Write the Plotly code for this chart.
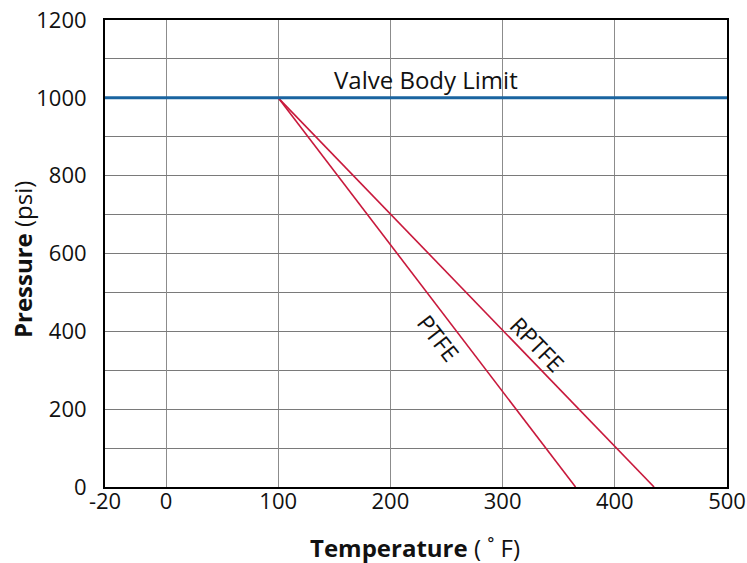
import plotly.graph_objects as go

# Data
limit_pressure = 1000
ptfe_temps = [100, 365]
ptfe_pressures = [1000, 0]
rptfe_temps = [100, 435]
rptfe_pressures = [1000, 0]

# Axis layout: the "-20" label sits at the left edge of a compressed axis
X_LEFT = -54.4
x_tick_vals = [X_LEFT, 0, 100, 200, 300, 400, 500]
x_tick_text = ["-20", "0", "100", "200", "300", "400", "500"]
y_tick_vals = [0, 200, 400, 600, 800, 1000, 1200]

limit_x = [X_LEFT, 500]
limit_y = [limit_pressure, limit_pressure]

RED = "#c8193c"
BLUE = "#1a64a0"
FONT = "Open Sans"
TXT = "#111111"

fig = go.Figure()
fig.add_trace(go.Scatter(x=ptfe_temps, y=ptfe_pressures, mode="lines",
                         line=dict(color=RED, width=1.6), hoverinfo="skip"))
fig.add_trace(go.Scatter(x=rptfe_temps, y=rptfe_pressures, mode="lines",
                         line=dict(color=RED, width=1.6), hoverinfo="skip"))
fig.add_trace(go.Scatter(x=limit_x, y=limit_y, mode="lines",
                         line=dict(color=BLUE, width=3), hoverinfo="skip"))

fig.add_annotation(x=232, y=1046, text="Valve Body Limit", showarrow=False,
                   font=dict(family=FONT, size=24, color=TXT),
                   xanchor="center", yanchor="middle")
fig.add_annotation(x=243, y=383, text="PTFE", showarrow=False, textangle=52,
                   font=dict(family=FONT, size=23, color=TXT),
                   xanchor="center", yanchor="middle")
fig.add_annotation(x=331, y=368, text="RPTFE", showarrow=False, textangle=46,
                   font=dict(family=FONT, size=23, color=TXT),
                   xanchor="center", yanchor="middle")

# Axis titles
fig.add_annotation(xref="paper", yref="paper", x=-0.1334, y=0.486,
                   text="<b>Pressure</b> (psi)", showarrow=False, textangle=-90,
                   font=dict(family=FONT, size=24, color=TXT),
                   xanchor="center", yanchor="middle")
fig.add_annotation(xref="paper", yref="paper", x=0.498, y=-0.1306,
                   text="<b>Temperature</b> ( ˚ F)", showarrow=False,
                   font=dict(family=FONT, size=24, color=TXT),
                   xanchor="center", yanchor="middle")

fig.update_layout(
    width=747, height=563,
    margin=dict(l=105, r=20, t=20, b=76),
    paper_bgcolor="white", plot_bgcolor="white",
    showlegend=False,
    font=dict(family=FONT, size=22, color=TXT),
    xaxis=dict(
        range=[X_LEFT, 500], tickmode="array", tickvals=x_tick_vals, ticktext=x_tick_text,
        showgrid=True, gridcolor="#8c8c8c", gridwidth=1,
        showline=True, linecolor="black", linewidth=2, mirror=True,
        ticks="", zeroline=False, automargin=False, ticklabelstandoff=-6,
        tickfont=dict(family=FONT, size=22),
    ),
    yaxis=dict(
        range=[0, 1200], tickmode="array", tickvals=y_tick_vals,
        showgrid=True, gridcolor="#7a7a7a", gridwidth=1,
        minor=dict(dtick=100, tick0=0, showgrid=True, gridcolor="#7a7a7a", gridwidth=1),
        showline=True, linecolor="black", linewidth=2, mirror=True,
        ticks="", zeroline=False, ticklabelstandoff=12, automargin=False,
        tickfont=dict(family=FONT, size=22),
    ),
)

fig.write_html("out.html", config={"displayModeBar": False},
               post_script="document.body.style.margin='0';")
